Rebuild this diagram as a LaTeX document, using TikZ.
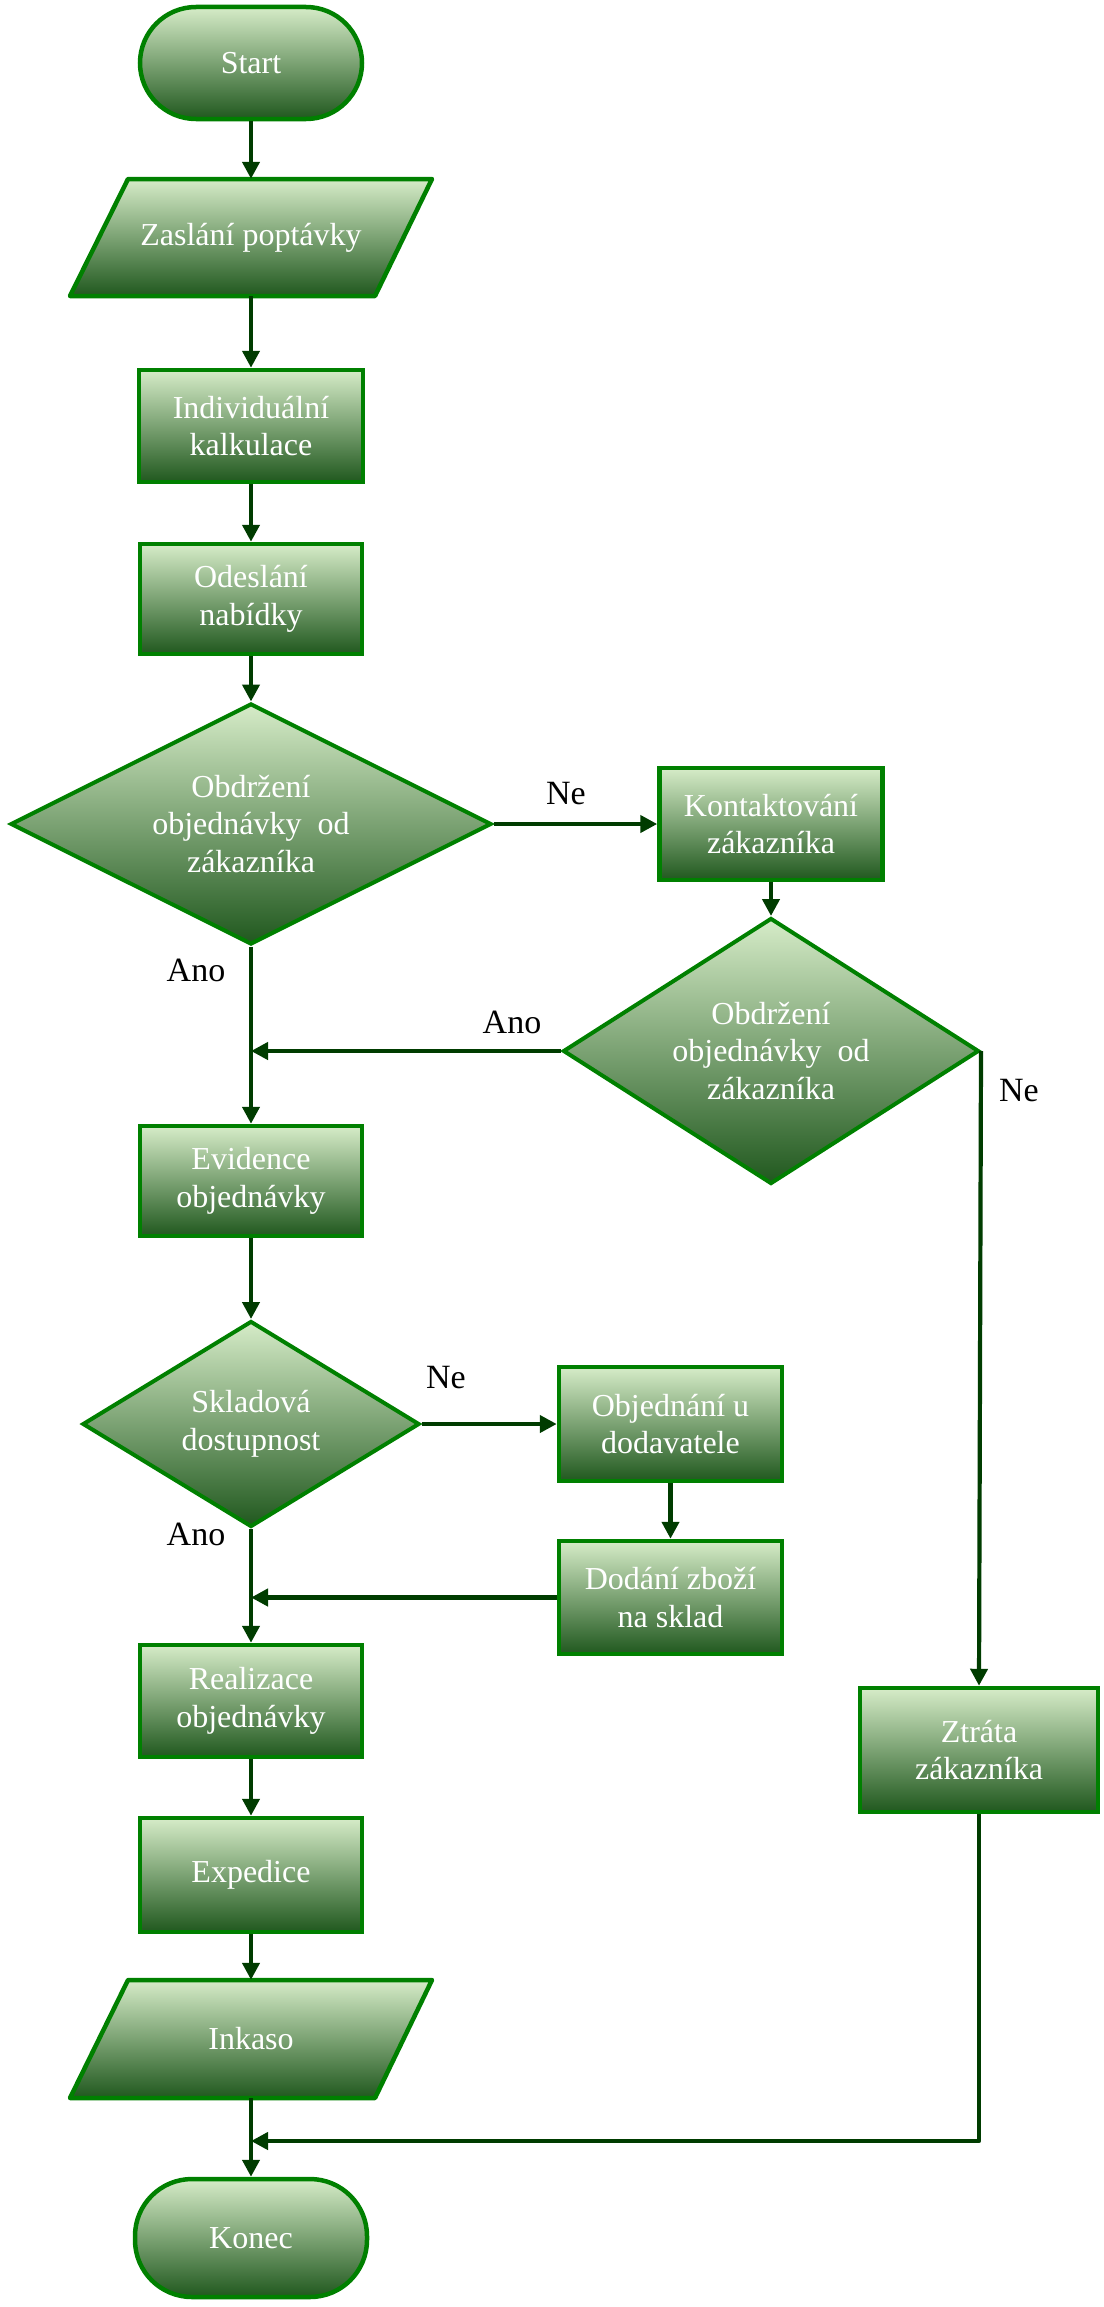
\documentclass[tikz,border=0pt]{standalone}
\usepackage{fontspec}
\setmainfont{Liberation Serif}
\usetikzlibrary{shapes.geometric,arrows.meta,calc}
\definecolor{bordergreen}{RGB}{0,128,0}
\definecolor{arrowgreen}{RGB}{0,60,0}
\definecolor{toplight}{RGB}{214,236,200}
\definecolor{botdark}{RGB}{32,88,30}
\begin{document}
\begin{tikzpicture}[x=1pt,y=-1pt,
 fillg/.style={top color=toplight,bottom color=botdark,draw=bordergreen,line width=4.5pt},
 txt/.style={text=white,font=\fontsize{32}{37.5}\selectfont,align=center},
 procbox/.style={fillg,txt,rectangle,inner sep=0pt},
 decis/.style={fillg,txt,diamond,inner sep=0pt,line width=4pt},
 termin/.style={fillg,txt,rectangle,inner sep=0pt},
 plain/.style={txt,rectangle,inner sep=0pt,minimum width=10pt},
 arr/.style={draw=arrowgreen,line width=4.2pt,-{Triangle[length=17pt,width=17pt]}},
 lbl/.style={font=\fontsize{34}{40}\selectfont,text=black,inner sep=0pt}
]
\useasboundingbox (0,0) rectangle (1103,2307);

% terminators
\node[termin,rounded corners=56pt,minimum width=222pt,minimum height=112pt] (start) at (251,63) {Start};

% parallelogram Zaslani
\path[fillg,line join=round] (128,179) -- (432,179) -- (375,296) -- (70,296) -- cycle;
\node[plain,minimum height=117pt] (zaslani) at (251,237.5) {Zaslání poptávky};

\node[procbox,minimum width=224pt,minimum height=112pt] (indiv) at (251,426) {Individuální\\kalkulace};
\node[procbox,minimum width=222pt,minimum height=110pt] (odesl) at (251,599) {Odeslání\\nabídky};

\node[decis,aspect=2,minimum width=481pt,minimum height=241pt] (d1) at (251,824) {Obdržení\\objednávky\ \ od\\zákazníka};
\node[procbox,minimum width=223pt,minimum height=112pt] (kont) at (771,824) {Kontaktování\\zákazníka};
\node[decis,aspect=1.56,minimum width=416pt,minimum height=266pt] (d2) at (771,1051) {Obdržení\\objednávky\ \ od\\zákazníka};

\node[procbox,minimum width=222pt,minimum height=110pt] (evid) at (251,1181) {Evidence\\objednávky};
\node[decis,aspect=1.64,minimum width=337pt,minimum height=206pt] (d3) at (251,1424) {Skladová\\dostupnost};
\node[procbox,minimum width=223pt,minimum height=114pt] (objed) at (670.5,1424) {Objednání u\\dodavatele};
\node[procbox,minimum width=223pt,minimum height=113pt] (dodani) at (670.5,1597.5) {Dodání zboží\\na sklad};

\node[procbox,minimum width=222pt,minimum height=112pt] (realiz) at (251,1701) {Realizace\\objednávky};
\node[procbox,minimum width=222pt,minimum height=114pt] (exped) at (251,1875) {Expedice};

% parallelogram Inkaso
\path[fillg,line join=round] (128,1980) -- (432,1980) -- (375,2098) -- (70,2098) -- cycle;
\node[plain,minimum height=118pt] (inkaso) at (251,2039) {Inkaso};

\node[termin,rounded corners=57pt,minimum width=232pt,minimum height=118pt] (konec) at (251,2238) {Konec};

\node[procbox,minimum width=238pt,minimum height=124pt] (ztrata) at (979,1750) {Ztráta\\zákazníka};

% connectors
\draw[arr] (start.south) -- (zaslani.north);
\draw[arr] (zaslani.south) -- (indiv.north);
\draw[arr] (indiv.south) -- (odesl.north);
\draw[arr] (odesl.south) -- (d1.north);
\draw[arr] (d1.east) -- (kont.west);
\draw[arr] (kont.south) -- (d2.north);
\draw[arr] (d1.south) -- (evid.north);
\draw[arr] (d2.west) -- (d2.west -| evid.north);
\draw[arr] (d2.east) -- (ztrata.north);
\draw[arr] (evid.south) -- (d3.north);
\draw[arr] (d3.east) -- (objed.west);
\draw[arr] (objed.south) -- (dodani.north);
\draw[arr] (dodani.west) -- (dodani.west -| evid.north);
\draw[arr] (d3.south) -- (realiz.north);
\draw[arr] (realiz.south) -- (exped.north);
\draw[arr] (exped.south) -- (inkaso.north);
\draw[arr] (inkaso.south) -- (konec.north);
\coordinate (cornerz) at (979,2141);
\draw[arr,line join=round] (ztrata.south) -- (cornerz) -- (cornerz -| konec.north);

% labels
\node[lbl] (ne1) at (566,794) {Ne};
\node[lbl] (ano1) at (196,970) {Ano};
\node[lbl] (ano2) at (512,1022) {Ano};
\node[lbl] (ne2) at (1019,1091) {Ne};
\node[lbl] (ne3) at (446,1378) {Ne};
\node[lbl] (ano3) at (196,1534) {Ano};
\end{tikzpicture}
\end{document}
